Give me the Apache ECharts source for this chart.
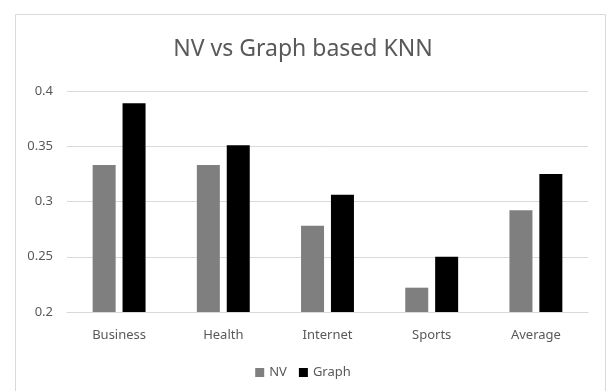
<!DOCTYPE html>
<html>
<head>
<meta charset="utf-8">
<script src="https://cdn.jsdelivr.net/npm/echarts@6/dist/echarts.min.js"></script>
<style>
html,body{margin:0;padding:0;background:#fff;}
#c{width:606px;height:391px;}
</style>
</head>
<body>
<div id="c"></div>
<script>
const categories = ['Business', 'Health', 'Internet', 'Sports', 'Average'];
const nvValues = [0.333, 0.333, 0.278, 0.222, 0.292];
const graphValues = [0.389, 0.351, 0.306, 0.250, 0.325];
const yTicks = [0.2, 0.25, 0.3, 0.35, 0.4];

const font = '"Noto Sans", "Open Sans", sans-serif';
const chart = echarts.init(document.getElementById('c'), null, {renderer: 'canvas'});
chart.setOption({
  animation: false,
  backgroundColor: '#fff',
  graphic: [{
    type: 'rect', left: 13, top: 12, silent: true,
    shape: {width: 590, height: 400},
    style: {fill: 'none', stroke: '#d9d9d9', lineWidth: 1}
  }],
  title: {
    text: 'NV vs Graph based KNN',
    left: 'center', top: 33,
    textStyle: {fontFamily: font, fontSize: 23, fontWeight: 'normal', color: '#595959'}
  },
  legend: {
    bottom: 7, left: 'center',
    itemWidth: 9, itemHeight: 9, itemGap: 12,
    icon: 'rect',
    textStyle: {fontFamily: font, fontSize: 13, color: '#595959'},
    data: ['NV', 'Graph']
  },
  grid: {left: 67, right: 18, top: 91, bottom: 79},
  xAxis: {
    type: 'category',
    data: categories,
    axisLine: {lineStyle: {color: '#d9d9d9'}},
    axisTick: {show: false},
    axisLabel: {fontFamily: font, fontSize: 13, color: '#595959', margin: 17}
  },
  yAxis: {
    type: 'value',
    min: yTicks[0], max: yTicks[yTicks.length - 1], interval: 0.05,
    axisLine: {show: false},
    axisTick: {show: false},
    splitLine: {lineStyle: {color: '#d9d9d9'}},
    axisLabel: {
      fontFamily: font, fontSize: 13, color: '#595959', margin: 14,
      formatter: v => String(parseFloat(v.toFixed(2)))
    }
  },
  series: [
    {name: 'NV', type: 'bar', data: nvValues, barWidth: 23, barGap: '30%',
     itemStyle: {color: '#7f7f7f'}},
    {name: 'Graph', type: 'bar', data: graphValues, barWidth: 23,
     itemStyle: {color: '#000000'}}
  ]
});
</script>
</body>
</html>
